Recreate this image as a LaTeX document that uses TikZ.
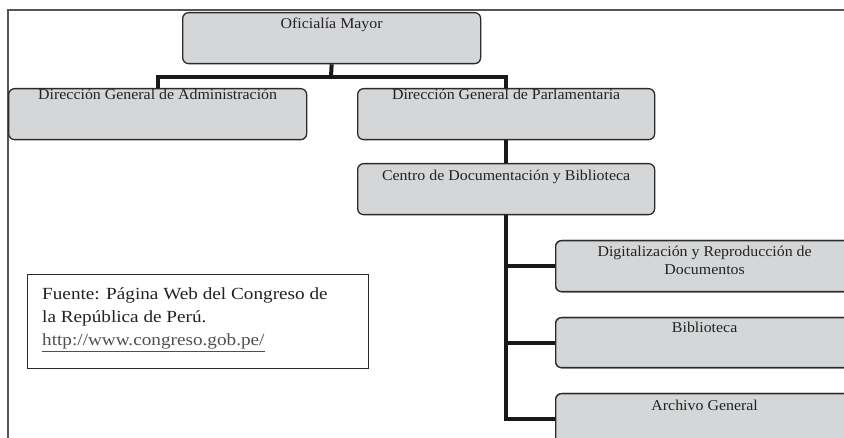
\documentclass[tikz,border=0pt]{standalone}
\usepackage{fontspec}
\setmainfont{Liberation Serif}
\newfontfamily\boxfont[FakeStretch=1.06]{Liberation Serif}
\newfontfamily\srcfont[FakeStretch=1.13]{Liberation Serif}
\definecolor{boxfill}{HTML}{D5D6D8}
\definecolor{boxline}{HTML}{2B2B2B}
\definecolor{framec}{HTML}{555555}
\definecolor{txtc}{HTML}{222222}
\definecolor{linkc}{HTML}{505050}
\tikzset{
  orgbox/.style={draw=boxline, fill=boxfill, line width=1.3pt, rounded corners=6pt,
    minimum height=51pt, inner sep=0pt, anchor=north west},
  boxtext/.style={text=txtc, font=\boxfont\fontsize{15}{18}\selectfont, anchor=base, align=center, inner sep=0pt},
  conn/.style={draw=black!90, line width=4pt, line join=miter},
  frameline/.style={draw=framec, line width=2pt},
  srcbox/.style={draw=boxline, line width=1.2pt, inner sep=0pt, anchor=north west},
  srctext/.style={text=txtc, font=\srcfont\fontsize{17}{23}\selectfont, anchor=base west, align=left, inner sep=0pt}
}
\begin{document}
\begin{tikzpicture}[x=1pt,y=-1pt]
\useasboundingbox (0,0) rectangle (844,438);
\clip (0,0) rectangle (844,438);
\fill[white] (0,0) rectangle (844,438);
% frame
\draw[frameline] (8,438) -- (8,10.5) -- (844,10.5);
% boxes
\node[orgbox, minimum width=298pt] (om) at (182,12) {};
\node[orgbox, minimum width=298pt] (dga) at (8,88) {};
\node[orgbox, minimum width=297pt] (dgp) at (357,88) {};
\node[orgbox, minimum width=297pt] (cdb) at (357,163) {};
\node[orgbox, minimum width=298pt] (dig) at (555,240) {};
\node[orgbox, minimum width=298pt, minimum height=50pt] (bib) at (555,317) {};
\node[orgbox, minimum width=298pt] (arc) at (555,393) {};
% connectors
\coordinate (bus) at (331,77);
\draw[conn] (om.south) -- (bus);
\draw[conn] (dga.north) |- (bus) -| (dgp.north);
\draw[conn] (dgp.south) -- (cdb.north);
\draw[conn] (cdb.south) |- (arc.west);
\draw[conn] (cdb.south |- dig.west) -- (dig.west);
\draw[conn] (cdb.south |- bib.west) -- (bib.west);
% redraw boxes over connector ends
\node[orgbox, minimum width=298pt] at (555,240) {};
\node[orgbox, minimum width=298pt, minimum height=50pt] at (555,317) {};
\node[orgbox, minimum width=298pt] at (555,393) {};
% texts
\node[boxtext] (tom) at ([yshift=-17pt]om.north) {Oficialía Mayor};
\node[boxtext] (tdga) at ([yshift=-12pt]dga.north) {Dirección General de Administración};
\node[boxtext] (tdgp) at ([yshift=-12pt]dgp.north) {Dirección General de Parlamentaria};
\node[boxtext] (tcdb) at ([yshift=-18pt]cdb.north) {Centro de Documentación y Biblioteca};
\node[boxtext] (tdig) at ([yshift=-35pt]dig.north) {Digitalización y Reproducción de\\Documentos};
\node[boxtext] (tbib) at ([yshift=-16pt]bib.north) {Biblioteca};
\node[boxtext] (tarc) at ([yshift=-17pt]arc.north) {Archivo General};
% source box
\node[srcbox, minimum width=341pt, minimum height=94pt] (src) at (27,274) {};
\node[srctext] (tsrc) at (42,346) {Fuente: Página Web del Congreso de\\la República de Perú.\\\textcolor{linkc}{\underline{http://www.congreso.gob.pe/}}};
\end{tikzpicture}
\end{document}
